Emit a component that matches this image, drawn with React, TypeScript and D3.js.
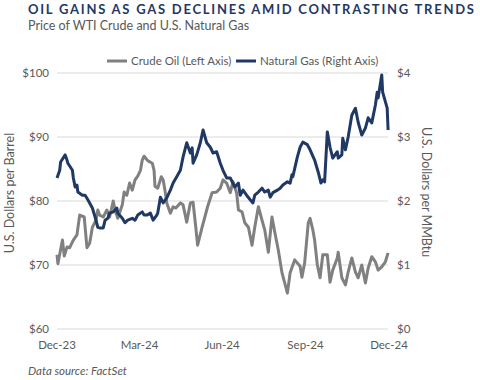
import React from "react";
import * as d3 from "d3";

const oilDates = ["2023-12-31","2024-01-01","2024-01-06","2024-01-08","2024-01-11","2024-01-14","2024-01-18","2024-01-22","2024-01-25","2024-01-30","2024-02-02","2024-02-05","2024-02-08","2024-02-12","2024-02-14","2024-02-16","2024-02-20","2024-02-24","2024-02-27","2024-03-02","2024-03-04","2024-03-07","2024-03-12","2024-03-14","2024-03-17","2024-03-20","2024-03-23","2024-03-26","2024-03-29","2024-04-01","2024-04-03","2024-04-05","2024-04-09","2024-04-14","2024-04-16","2024-04-17","2024-04-20","2024-04-24","2024-04-26","2024-04-28","2024-04-30","2024-05-04","2024-05-07","2024-05-10","2024-05-15","2024-05-18","2024-05-22","2024-05-26","2024-05-29","2024-06-01","2024-06-03","2024-06-08","2024-06-11","2024-06-14","2024-06-19","2024-06-24","2024-06-28","2024-07-01","2024-07-05","2024-07-09","2024-07-12","2024-07-16","2024-07-18","2024-07-22","2024-07-25","2024-07-29","2024-08-02","2024-08-05","2024-08-09","2024-08-13","2024-08-16","2024-08-20","2024-08-24","2024-08-27","2024-08-31","2024-09-04","2024-09-10","2024-09-13","2024-09-18","2024-09-24","2024-09-26","2024-09-29","2024-10-03","2024-10-05","2024-10-08","2024-10-10","2024-10-13","2024-10-16","2024-10-19","2024-10-24","2024-10-27","2024-10-30","2024-11-04","2024-11-05","2024-11-09","2024-11-13","2024-11-16","2024-11-20","2024-11-24","2024-11-27","2024-12-01","2024-12-05","2024-12-08","2024-12-12","2024-12-16","2024-12-19","2024-12-23","2024-12-27","2024-12-30"];
const oilValues = [71.6,70.2,73.9,71.4,72.8,72.7,73.9,74.7,77.8,77.5,72.7,73.4,75.9,77.0,78.6,77.8,77.5,78.6,77.5,80.0,78.6,77.3,79.4,81.4,80.9,82.8,81.7,83.3,83.9,84.8,86.4,87.0,86.3,85.9,84.8,82.3,82.0,83.8,83.3,81.7,79.7,78.1,79.1,78.9,79.7,79.4,76.7,79.7,79.8,75.9,73.1,75.9,77.5,79.1,81.3,81.4,82.0,83.3,82.8,81.3,83.0,81.3,78.6,78.3,76.6,75.9,73.1,75.9,79.1,77.0,75.5,72.0,77.5,75.2,72.3,68.8,65.6,68.8,70.8,69.8,68.1,70.3,76.6,77.3,75.5,73.9,70.0,68.0,71.6,71.6,67.3,69.2,71.1,72.0,68.0,66.9,68.9,71.1,68.9,68.0,70.0,67.2,69.5,71.3,70.5,69.2,69.7,70.5,71.9];

const gasDates = ["2023-12-31","2024-01-03","2024-01-04","2024-01-09","2024-01-11","2024-01-12","2024-01-17","2024-01-18","2024-01-20","2024-01-22","2024-01-23","2024-01-28","2024-01-31","2024-02-03","2024-02-08","2024-02-11","2024-02-14","2024-02-16","2024-02-20","2024-02-22","2024-02-25","2024-02-27","2024-03-02","2024-03-06","2024-03-07","2024-03-12","2024-03-15","2024-03-18","2024-03-23","2024-03-26","2024-03-29","2024-04-03","2024-04-05","2024-04-08","2024-04-12","2024-04-15","2024-04-19","2024-04-20","2024-04-23","2024-04-26","2024-04-30","2024-05-04","2024-05-07","2024-05-11","2024-05-15","2024-05-18","2024-05-22","2024-05-26","2024-05-28","2024-05-29","2024-06-02","2024-06-06","2024-06-09","2024-06-13","2024-06-17","2024-06-20","2024-06-24","2024-06-28","2024-07-01","2024-07-05","2024-07-09","2024-07-14","2024-07-18","2024-07-20","2024-07-23","2024-07-27","2024-07-31","2024-08-03","2024-08-05","2024-08-09","2024-08-13","2024-08-16","2024-08-20","2024-08-22","2024-08-25","2024-08-30","2024-09-02","2024-09-05","2024-09-10","2024-09-13","2024-09-15","2024-09-16","2024-09-21","2024-09-24","2024-09-27","2024-10-02","2024-10-05","2024-10-10","2024-10-14","2024-10-17","2024-10-19","2024-10-21","2024-10-24","2024-10-27","2024-10-30","2024-11-04","2024-11-05","2024-11-09","2024-11-10","2024-11-13","2024-11-16","2024-11-20","2024-11-24","2024-11-27","2024-12-01","2024-12-05","2024-12-08","2024-12-12","2024-12-16","2024-12-18","2024-12-19","2024-12-23","2024-12-24","2024-12-29","2024-12-30"];
const gasValues = [2.36,2.48,2.61,2.72,2.64,2.59,2.48,2.36,2.22,2.25,2.14,2.09,2.09,2.02,1.89,1.75,1.59,1.58,1.58,1.70,1.73,1.81,1.83,1.89,1.81,1.73,1.66,1.70,1.73,1.70,1.78,1.83,1.78,1.78,1.81,1.70,1.78,1.81,2.06,1.97,2.05,2.17,2.28,2.38,2.48,2.69,2.91,2.75,2.83,2.59,2.72,2.91,3.11,2.91,2.84,2.75,2.77,2.59,2.48,2.36,2.36,2.22,2.28,2.09,2.17,2.09,2.02,1.97,2.09,2.14,2.20,2.14,2.17,2.06,2.13,2.17,2.20,2.25,2.30,2.28,2.41,2.38,2.69,2.84,2.92,2.88,2.80,2.64,2.45,2.28,2.33,2.30,3.08,2.84,2.67,2.77,2.67,2.72,2.98,2.80,3.00,3.34,3.45,3.23,3.03,3.14,3.30,3.22,3.50,3.70,3.61,3.97,3.70,3.45,3.11];

const leftTicks = [60, 70, 80, 90, 100];
const rightTicks = [0, 1, 2, 3, 4];
const xTickDates = ["2023-12-31", "2024-03-31", "2024-06-30", "2024-09-30", "2024-12-31"];

const TITLE = "OIL GAINS AS GAS DECLINES AMID CONTRASTING TRENDS";
const SUBTITLE = "Price of WTI Crude and U.S. Natural Gas";
const SOURCE = "Data source: FactSet";
const OIL_LABEL = "Crude Oil (Left Axis)";
const GAS_LABEL = "Natural Gas (Right Axis)";

const NAVY = "#1F3864";
const GRAY = "#808080";
const TEXT = "#595959";
const FONT = "Lato, 'Open Sans', sans-serif";

export default function App() {
  const W = 480, H = 380;
  const left = 57, right = 389, top = 73, bottom = 329;
  const parse = d3.utcParse("%Y-%m-%d");
  const x = d3.scaleUtc()
    .domain([parse("2023-12-31")!, parse("2024-12-31")!])
    .range([left, right]);
  const yL = d3.scaleLinear().domain([60, 100]).range([bottom, top]);
  const yR = d3.scaleLinear().domain([0, 4]).range([bottom, top]);

  const oil = oilDates.map((d, i) => ({ d: parse(d)!, v: oilValues[i] }));
  const gas = gasDates.map((d, i) => ({ d: parse(d)!, v: gasValues[i] }));

  const oilLine = d3.line<{ d: Date; v: number }>().x(p => x(p.d)).y(p => yL(p.v));
  const gasLine = d3.line<{ d: Date; v: number }>().x(p => x(p.d)).y(p => yR(p.v));
  const fmt = d3.utcFormat("%b-%y");

  return (
    <svg width={W} height={H} style={{ position: "absolute", left: 0, top: 0, background: "#fff" }} fontFamily={FONT}>
      <text x={28} y={14} fill={NAVY} fontWeight="bold" fontSize={13} textLength={446} lengthAdjust="spacing">{TITLE}</text>
      <text x={28} y={29.5} fill={TEXT} fontSize={12.5}>{SUBTITLE}</text>

      {leftTicks.map(t => (
        <line key={"g" + t} x1={left} x2={right - 1} y1={yL(t)} y2={yL(t)} stroke="#d9d9d9" strokeWidth={1} />
      ))}
      {leftTicks.map(t => (
        <text key={"l" + t} x={49} y={yL(t) + 4} textAnchor="end" fill={TEXT} fontSize={11.5}>{"$" + t}</text>
      ))}
      {rightTicks.map(t => (
        <text key={"r" + t} x={397} y={yR(t) + 4} textAnchor="start" fill={TEXT} fontSize={11.5}>{"$" + t}</text>
      ))}
      {xTickDates.map(t => (
        <text key={t} x={x(parse(t)!)} y={349} textAnchor="middle" fill={TEXT} fontSize={11.5}>{fmt(parse(t)!)}</text>
      ))}

      <text transform={`translate(14,${193}) rotate(-90)`} textAnchor="middle" fill={TEXT} fontSize={12.5}>U.S. Dollars per Barrel</text>
      <text transform={`translate(422,${192}) rotate(90)`} textAnchor="middle" fill={TEXT} fontSize={12.5}>U.S. Dollars per MMBtu</text>

      <path d={oilLine(oil)!} fill="none" stroke={GRAY} strokeWidth={3} strokeLinejoin="round" />
      <path d={gasLine(gas)!} fill="none" stroke={NAVY} strokeWidth={3} strokeLinejoin="round" />

      <line x1={107} x2={127} y1={61} y2={61} stroke={GRAY} strokeWidth={3} />
      <text x={131} y={65} fill={TEXT} fontSize={11.5}>{OIL_LABEL}</text>
      <line x1={236} x2={256} y1={61} y2={61} stroke={NAVY} strokeWidth={3} />
      <text x={260} y={65} fill={TEXT} fontSize={11.5}>{GAS_LABEL}</text>

      <text x={28} y={375} fill={TEXT} fontSize={11.5} fontStyle="italic">{SOURCE}</text>
    </svg>
  );
}
